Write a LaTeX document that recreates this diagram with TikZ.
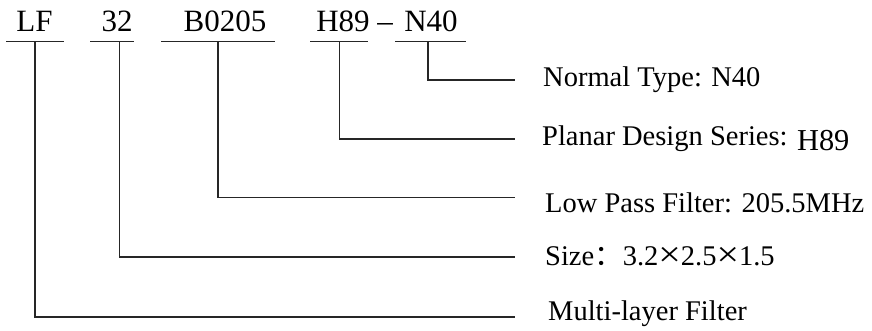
\documentclass[tikz,border=0pt]{standalone}
\usepackage{fontspec}
\setmainfont{Liberation Serif}
\newfontfamily\cjk{Noto Sans CJK SC}
\newcommand{\bigtimes}{\raisebox{-0.05em}{\scalebox{1.4}[1.25]{×}}}
\begin{document}
\begin{tikzpicture}[x=1pt,y=-1pt,
  code/.style={font=\fontsize{31}{33}\selectfont, inner sep=0pt, anchor=base},
  lbl/.style={font=\fontsize{28.5}{30}\selectfont, inner sep=0pt, anchor=base west},
  wire/.style={line width=1.6pt, draw=black!85}]
\useasboundingbox (0,0) rectangle (872,331);
% code parts
\node[code] (lf)  at (34.5,32) {LF};
\node[code] (s32) at (117,32) {32};
\node[code] (b)   at (225,32) {B0205};
\node[code] (h)   at (343,32) {H89};
\node[code] (dash) at (385,32) {–};
\node[code] (n)   at (431,32) {N40};
% underline coordinates
\coordinate (lfL) at (6,41.7);   \coordinate (lfR) at (64,41.7);  \coordinate (lfT) at (35,41.7);
\coordinate (sL) at (90,41.7);   \coordinate (sR) at (134,41.7);  \coordinate (sT) at (119.5,41.7);
\coordinate (bL) at (161,41.7);  \coordinate (bR) at (275,41.7);  \coordinate (bT) at (218,41.7);
\coordinate (hL) at (310,41.7);  \coordinate (hR) at (368,41.7);  \coordinate (hT) at (339.5,41.7);
\coordinate (nL) at (395,41.7);  \coordinate (nR) at (466,41.7);  \coordinate (nT) at (428,41.7);
% wire ends
\coordinate (nE) at (515,80);
\coordinate (hE) at (515,139);
\coordinate (bE) at (515,197.5);
\coordinate (sE) at (515,257);
\coordinate (lfE) at (515,317);
% labels
\node[lbl] (nl) at (543,87) {Normal Type: N40};
\node[lbl] (hl) at (542,146) {Planar Design Series: \raisebox{-4.7pt}{\fontsize{30.4}{32}\selectfont H89}};
\node[lbl] (bl) at (545,212) {Low Pass Filter: 205.5MHz};
\node[lbl] (sl) at (545,265) {Size{\cjk ：}3.2\bigtimes2.5\bigtimes1.5};
\node[lbl] (ll) at (548,320) {Multi-layer Filter};
% underlines
\draw[wire] (lfL) -- (lfR);
\draw[wire] (sL) -- (sR);
\draw[wire] (bL) -- (bR);
\draw[wire] (hL) -- (hR);
\draw[wire] (nL) -- (nR);
% connectors
\draw[wire] (nT) |- (nE);
\draw[wire] (hT) |- (hE);
\draw[wire] (bT) |- (bE);
\draw[wire] (sT) |- (sE);
\draw[wire] (lfT) |- (lfE);
\end{tikzpicture}
\end{document}
